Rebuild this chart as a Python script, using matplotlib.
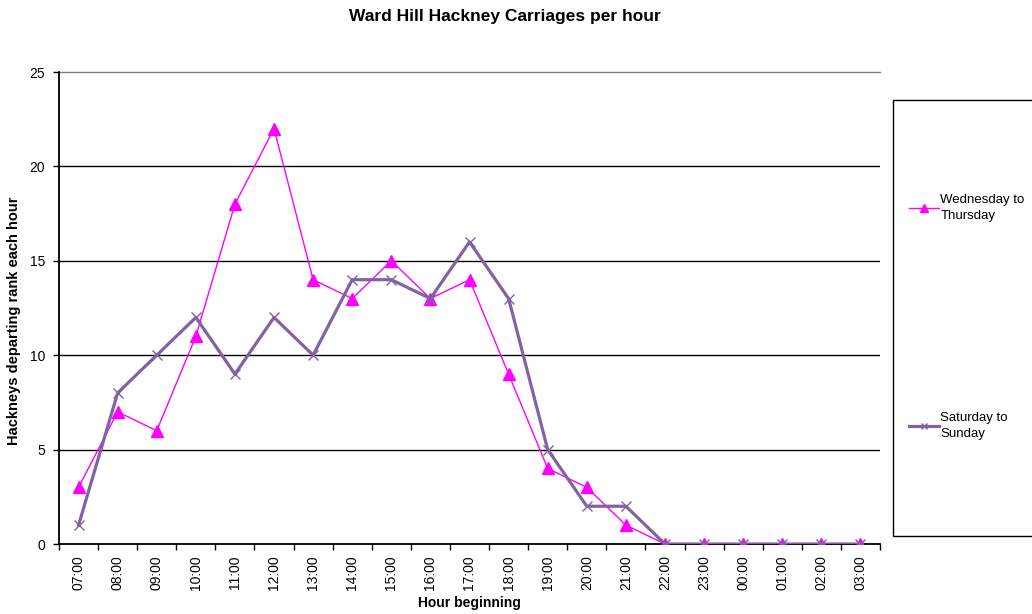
import matplotlib.pyplot as plt
from matplotlib.lines import Line2D
from matplotlib.patches import Rectangle
import numpy as np

plt.rcParams['font.family'] = ['Liberation Sans', 'DejaVu Sans']

#=== DATA ===#
hours = ['07:00', '08:00', '09:00', '10:00', '11:00', '12:00', '13:00',
         '14:00', '15:00', '16:00', '17:00', '18:00', '19:00', '20:00',
         '21:00', '22:00', '23:00', '00:00', '01:00', '02:00', '03:00']
wed_thu = [3, 7, 6, 11, 18, 22, 14, 13, 15, 13, 14, 9, 4, 3, 1, 0, 0, 0, 0, 0, 0]
sat_sun = [1, 8, 10, 12, 9, 12, 10, 14, 14, 13, 16, 13, 5, 2, 2, 0, 0, 0, 0, 0, 0]

wed_col = '#FF00FF'
sat_col = '#8064A2'

#=== PLOT ===#
fig = plt.figure(figsize=(10.32, 6.14), dpi=100)
ax = fig.add_axes([59/1032, 70/614, 821/1032, 472/614])

x = np.arange(len(hours))
ax.plot(x, wed_thu, color=wed_col, lw=1.0, marker='^', ms=8, mec=wed_col, mfc=wed_col, zorder=3)
ax.plot(x, sat_sun, color=sat_col, lw=2.3, marker='x', ms=7, mew=1.0, zorder=4)

ax.set_xlim(-0.5, len(hours) - 0.5)
ax.set_ylim(0, 25)

# gridlines
for yv in [5, 10, 15, 20]:
    ax.axhline(yv, color='black', lw=1.0, zorder=1)
ax.axhline(25, color='#808080', lw=1.0, zorder=1, clip_on=False)

for s in ['top', 'right']:
    ax.spines[s].set_visible(False)
ax.spines['left'].set_linewidth(1.3)
ax.spines['bottom'].set_linewidth(1.3)

ax.set_yticks(range(0, 26, 5))
ax.tick_params(axis='y', direction='out', length=4, width=1, labelsize=10, pad=6)

ax.set_xticks(np.arange(-0.5, len(hours), 1.0))
ax.set_xticklabels([])
ax.tick_params(axis='x', which='major', direction='out', length=4, width=1)
ax.set_xticks(x, minor=True)
ax.set_xticklabels(hours, minor=True, rotation=90, fontsize=10)
ax.tick_params(axis='x', which='minor', length=0, pad=8)

ax.set_xlabel('Hour beginning', fontsize=10, fontweight='bold', labelpad=4)
ax.set_ylabel('Hackneys departing rank each hour', fontsize=10.5, fontweight='bold')
ax.yaxis.set_label_coords(-0.046, 0.472)

fig.text(505/1032, 1 - 17/614, 'Ward Hill Hackney Carriages per hour',
         ha='center', va='center', fontsize=12.5, fontweight='bold')

# legend box
fig.patches.append(Rectangle((893/1032, 1 - 536/614), 150/1032, 436/614,
                             transform=fig.transFigure, fill=False,
                             edgecolor='black', lw=1.0))

h1 = Line2D([], [], color=wed_col, lw=1.0, marker='^', ms=6, mfc=wed_col, mec=wed_col)
h2 = Line2D([], [], color=sat_col, lw=2.3, marker='x', ms=5, mew=1.0)
leg1 = fig.legend([h1], ['Wednesday to\nThursday'], loc='center left',
                  bbox_to_anchor=(902/1032, 1 - 208/614), frameon=False,
                  fontsize=9.5, handlelength=2.3, handletextpad=0.1, borderpad=0)
leg2 = fig.legend([h2], ['Saturday to\nSunday'], loc='center left',
                  bbox_to_anchor=(902/1032, 1 - 426/614), frameon=False,
                  fontsize=9.5, handlelength=2.3, handletextpad=0.1, borderpad=0)
for leg in (leg1, leg2):
    for t in leg.get_texts():
        t.set_linespacing(1.45)

fig.savefig('out.png', dpi=100)
